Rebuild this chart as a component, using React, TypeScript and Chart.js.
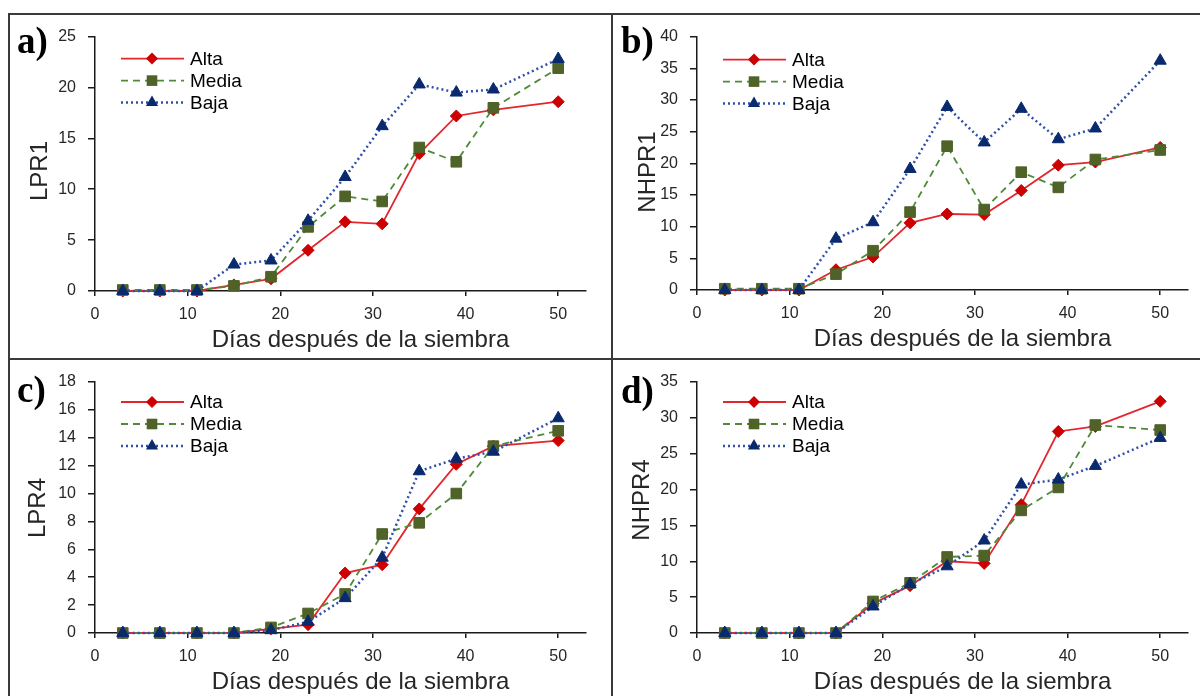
import React, { useEffect, useRef } from "react";
import { Chart, registerables } from "chart.js";

Chart.register(...registerables);

// ---------- data ----------
const days = [3, 7, 11, 15, 19, 23, 27, 31, 35, 39, 43, 50];
const seriesNames = ["Alta", "Media", "Baja"];
const xTitle = "Días después de la siembra";
const xTickValues = [0, 10, 20, 30, 40, 50];

const lpr1Alta = [0, 0, 0, 0.6, 1.2, 4.0, 6.8, 6.6, 13.5, 17.2, 17.8, 18.6];
const lpr1Media = [0.1, 0.1, 0.1, 0.5, 1.4, 6.3, 9.3, 8.8, 14.1, 12.7, 18.0, 21.9];
const lpr1Baja = [0, 0, 0, 2.6, 3.0, 6.9, 11.2, 16.2, 20.3, 19.5, 19.8, 22.8];

const nhpr1Alta = [0, 0, 0, 3.2, 5.2, 10.6, 12.0, 11.9, 15.7, 19.7, 20.2, 22.5];
const nhpr1Media = [0.2, 0.2, 0.2, 2.5, 6.2, 12.3, 22.7, 12.7, 18.6, 16.2, 20.6, 22.1];
const nhpr1Baja = [0, 0, 0, 8.1, 10.7, 19.1, 28.9, 23.3, 28.6, 23.8, 25.5, 36.2];

const lpr4Alta = [0, 0, 0, 0, 0.3, 0.6, 4.3, 4.9, 8.9, 12.1, 13.4, 13.8];
const lpr4Media = [0, 0, 0, 0, 0.4, 1.4, 2.8, 7.1, 7.9, 10.0, 13.4, 14.5];
const lpr4Baja = [0, 0, 0, 0, 0.2, 0.8, 2.5, 5.4, 11.6, 12.5, 13.0, 15.4];

const nhpr4Alta = [0, 0, 0, 0, 4.1, 6.6, 10.0, 9.7, 17.9, 28.1, 28.8, 32.3];
const nhpr4Media = [0, 0, 0, 0, 4.4, 7.0, 10.6, 10.8, 17.1, 20.3, 29.0, 28.3];
const nhpr4Baja = [0, 0, 0, 0, 3.7, 6.8, 9.3, 12.9, 20.7, 21.4, 23.3, 27.2];

// ---------- styles ----------
const SANS = "'Liberation Sans', Arial, sans-serif";
const SERIF = "'Liberation Serif', 'Times New Roman', serif";
const AXIS = "#1a1a1a";
const TEXT = "#262626";

const seriesStyles = [
  { line: "#E3262E", point: "#CC0000", style: "rectRot", radius: 6, width: 1.8, dash: [] as number[], order: 2 },
  { line: "#4F8A37", point: "#4F6228", style: "rect", radius: 7.5, width: 1.8, dash: [7, 5], order: 1 },
  { line: "#2F4FA8", point: "#0A2A6E", style: "triangle", radius: 7, width: 2.5, dash: [2, 3], order: 0 },
];

type PanelDef = {
  letter: string;
  yTitle: string;
  yMax: number;
  yStep: number;
  series: number[][];
  left: number;
  top: number;
  w: number;
  h: number;
  chartTop: number;
  chartBottom: number;
  letterX: number;
  letterY: number;
  yTitleX: number;
  yTitleY: number;
  legendTop: number;
};

const panels: PanelDef[] = [
  { letter: "a)", yTitle: "LPR1", yMax: 25, yStep: 5, series: [lpr1Alta, lpr1Media, lpr1Baja],
    left: 10, top: 15, w: 600, h: 344, chartTop: 19, chartBottom: 276,
    letterX: 7, letterY: 38, yTitleX: 30, yTitleY: 156, legendTop: 22 },
  { letter: "b)", yTitle: "NHPR1", yMax: 40, yStep: 5, series: [nhpr1Alta, nhpr1Media, nhpr1Baja],
    left: 612, top: 15, w: 588, h: 344, chartTop: 19, chartBottom: 275,
    letterX: 9, letterY: 38, yTitleX: 36, yTitleY: 157, legendTop: 23 },
  { letter: "c)", yTitle: "LPR4", yMax: 18, yStep: 2, series: [lpr4Alta, lpr4Media, lpr4Baja],
    left: 10, top: 360, w: 600, h: 336, chartTop: 22, chartBottom: 273,
    letterX: 7, letterY: 42, yTitleX: 28, yTitleY: 148, legendTop: 20 },
  { letter: "d)", yTitle: "NHPR4", yMax: 35, yStep: 5, series: [nhpr4Alta, nhpr4Media, nhpr4Baja],
    left: 612, top: 360, w: 588, h: 336, chartTop: 22, chartBottom: 273,
    letterX: 9, letterY: 43, yTitleX: 30, yTitleY: 140, legendTop: 20 },
];

function drawMarker(ctx: CanvasRenderingContext2D, style: string, x: number, y: number, r: number) {
  ctx.beginPath();
  if (style === "rectRot") {
    ctx.moveTo(x, y - r);
    ctx.lineTo(x + r, y);
    ctx.lineTo(x, y + r);
    ctx.lineTo(x - r, y);
  } else if (style === "rect") {
    const s = Math.SQRT1_2 * r;
    ctx.rect(x - s, y - s, 2 * s, 2 * s);
  } else {
    let a = 0;
    ctx.moveTo(x + Math.sin(a) * r, y - Math.cos(a) * r);
    a += (2 * Math.PI) / 3;
    ctx.lineTo(x + Math.sin(a) * r, y - Math.cos(a) * r);
    a += (2 * Math.PI) / 3;
    ctx.lineTo(x + Math.sin(a) * r, y - Math.cos(a) * r);
  }
  ctx.closePath();
  ctx.fill();
}

function Panel({ p }: { p: PanelDef }) {
  const ref = useRef<HTMLCanvasElement>(null);

  useEffect(() => {
    if (!ref.current) return;
    const annot = {
      id: "annot",
      afterDraw(chart: any) {
        const { ctx, chartArea } = chart;
        ctx.save();
        // panel letter
        ctx.fillStyle = "#000";
        ctx.font = `bold 37px ${SERIF}`;
        ctx.textAlign = "left";
        ctx.textBaseline = "alphabetic";
        ctx.fillText(p.letter, p.letterX, p.letterY);
        // x title
        ctx.fillStyle = TEXT;
        ctx.font = `24px ${SANS}`;
        ctx.textAlign = "center";
        ctx.fillText(xTitle, (chartArea.left + chartArea.right) / 2 + 20, chartArea.bottom + 56);
        // y title
        ctx.save();
        ctx.translate(p.yTitleX, p.yTitleY);
        ctx.rotate(-Math.PI / 2);
        ctx.textBaseline = "middle";
        ctx.fillText(p.yTitle, 0, 0);
        ctx.restore();
        // legend
        seriesNames.forEach((name, i) => {
          const st = seriesStyles[i];
          const y = chartArea.top + p.legendTop + i * 22;
          const x0 = chartArea.left + 26;
          const x1 = chartArea.left + 89;
          ctx.save();
          ctx.strokeStyle = st.line;
          ctx.lineWidth = st.width;
          ctx.setLineDash(st.dash);
          ctx.beginPath();
          ctx.moveTo(x0, y);
          ctx.lineTo(x1, y);
          ctx.stroke();
          ctx.restore();
          ctx.fillStyle = st.point;
          drawMarker(ctx, st.style, chartArea.left + 57, y, st.radius);
          ctx.fillStyle = "#000";
          ctx.font = `19px ${SANS}`;
          ctx.textAlign = "left";
          ctx.textBaseline = "middle";
          ctx.fillText(name, chartArea.left + 95, y + 1);
        });
        ctx.restore();
      },
    };

    const datasets = p.series.map((vals, i) => {
      const st = seriesStyles[i];
      return {
        label: seriesNames[i],
        data: days.map((d, k) => ({ x: d, y: vals[k] })),
        borderColor: st.line,
        backgroundColor: st.point,
        borderWidth: st.width,
        borderDash: st.dash,
        pointStyle: st.style,
        pointRadius: st.radius,
        pointBackgroundColor: st.point,
        pointBorderColor: st.point,
        pointBorderWidth: 1,
        tension: 0,
        fill: false,
        clip: false,
        order: st.order,
      };
    });

    const xAxisH = p.h - p.chartBottom;
    const chart = new Chart(ref.current, {
      type: "line",
      data: { datasets } as any,
      options: {
        animation: false,
        responsive: false,
        maintainAspectRatio: false,
        events: [],
        layout: { padding: { left: 0, top: p.chartTop, right: p.w - 576, bottom: 0 } },
        plugins: { legend: { display: false }, tooltip: { enabled: false }, title: { display: false } },
        scales: {
          x: {
            type: "linear",
            min: 0,
            max: 53,
            afterBuildTicks: (s: any) => {
              s.ticks = xTickValues.map((v) => ({ value: v }));
            },
            afterFit: (s: any) => {
              s.height = xAxisH;
            },
            ticks: { stepSize: 10, padding: 9, color: TEXT, font: { family: SANS, size: 16 }, maxRotation: 0 },
            grid: { drawOnChartArea: false, drawTicks: true, tickLength: 5, color: AXIS, tickColor: AXIS, lineWidth: 1.5 },
            border: { display: true, color: AXIS, width: 1.5 },
          },
          y: {
            type: "linear",
            min: 0,
            max: p.yMax,
            afterFit: (s: any) => {
              s.width = 85;
            },
            ticks: { stepSize: p.yStep, padding: 12, color: TEXT, font: { family: SANS, size: 16 } },
            grid: { drawOnChartArea: false, drawTicks: true, tickLength: 7, color: AXIS, tickColor: AXIS, lineWidth: 1.5 },
            border: { display: true, color: AXIS, width: 1.5 },
          },
        },
      } as any,
      plugins: [annot],
    });
    return () => chart.destroy();
  }, [p]);

  return (
    <canvas
      ref={ref}
      width={p.w}
      height={p.h}
      style={{ position: "absolute", left: p.left, top: p.top, width: p.w, height: p.h }}
    />
  );
}

export default function App() {
  const line = "#3a3a3a";
  return (
    <div
      style={{
        position: "absolute",
        left: 0,
        top: 0,
        width: 1200,
        height: 696,
        overflow: "hidden",
        background: "#fff",
      }}
    >
      <div style={{ position: "absolute", left: 8, top: 13, width: 1192, height: 2, background: line }} />
      <div style={{ position: "absolute", left: 8, top: 13, width: 2, height: 683, background: line }} />
      <div style={{ position: "absolute", left: 611, top: 13, width: 2, height: 683, background: line }} />
      <div style={{ position: "absolute", left: 8, top: 358, width: 1192, height: 2, background: line }} />
      {panels.map((p) => (
        <Panel key={p.letter} p={p} />
      ))}
    </div>
  );
}
